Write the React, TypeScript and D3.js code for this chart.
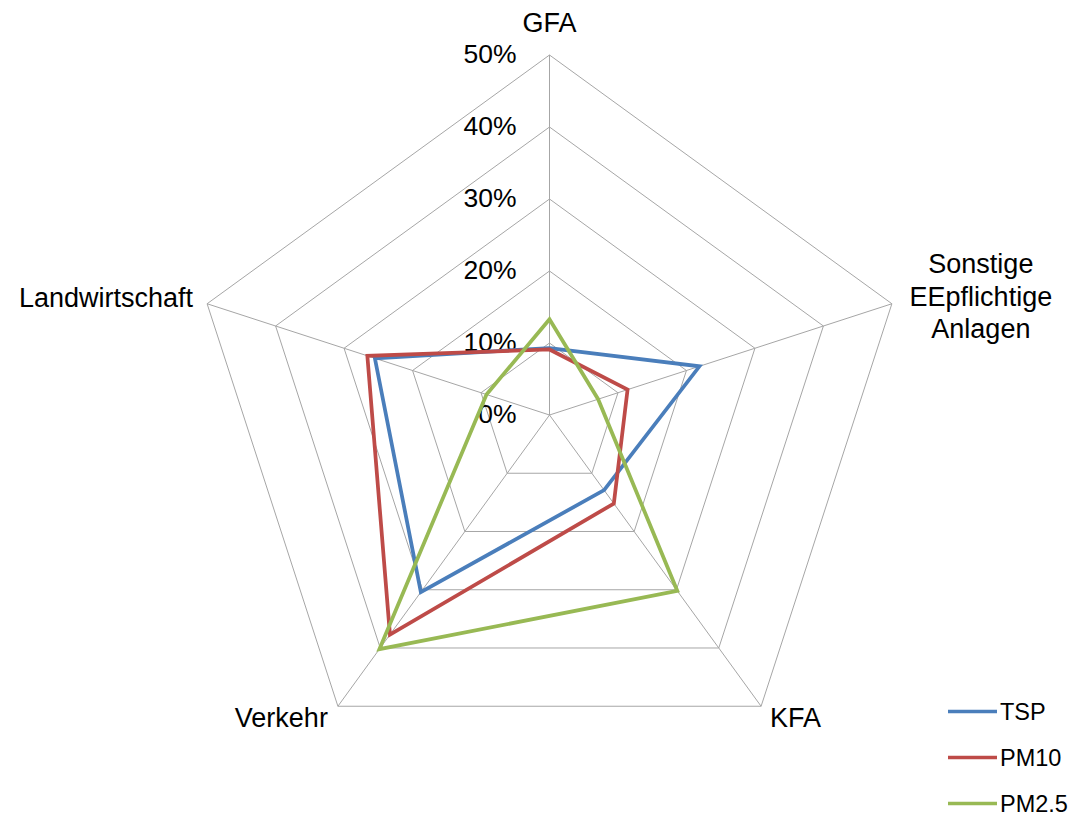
import React from "react";
import * as d3 from "d3";

// Emission shares by source group (fraction of total, per pollutant)
const categories: string[][] = [
  ["GFA"],
  ["Sonstige", "EEpflichtige", "Anlagen"],
  ["KFA"],
  ["Verkehr"],
  ["Landwirtschaft"],
];
const tspValues = [0.093, 0.219, 0.129, 0.304, 0.255];
const pm10Values = [0.091, 0.114, 0.152, 0.377, 0.266];
const pm25Values = [0.133, 0.071, 0.302, 0.402, 0.092];
const tickValues = [0, 0.1, 0.2, 0.3, 0.4, 0.5];
const tickLabels = ["0%", "10%", "20%", "30%", "40%", "50%"];

const seriesNames = ["TSP", "PM10", "PM2.5"];
const seriesValues = [tspValues, pm10Values, pm25Values];
const seriesColors = ["#4A7EBB", "#BE4B48", "#98B954"];

const W = 1077;
const H = 816;
const cx = 549.5;
const cy = 415;
const R = 360;
const FONT = "'Liberation Sans', Arial, sans-serif";

export default function App() {
  const n = categories.length;
  const r = d3.scaleLinear().domain([0, 0.5]).range([0, R]);
  const angle = d3
    .scaleLinear()
    .domain([0, n])
    .range([0, 2 * Math.PI]);

  // point for category i at value v (angle measured clockwise from 12 o'clock)
  const pt = (i: number, v: number): [number, number] => {
    const a = angle(i);
    return [cx + r(v) * Math.sin(a), cy - r(v) * Math.cos(a)];
  };

  const radial = d3
    .lineRadial<number>()
    .angle((_, i) => angle(i))
    .radius((d) => r(d))
    .curve(d3.curveLinearClosed);

  const idx = d3.range(n);
  const maxV = tickValues[tickValues.length - 1];

  // label layout per axis: [dx, dy, anchor] relative to the outer vertex
  const labelPos: [number, number, string][] = [
    [0, -32, "middle"],
    [89, -7, "middle"],
    [9, 12, "start"],
    [-10, 12, "end"],
    [-14, -6, "end"],
  ];

  return (
    <svg
      width={W}
      height={H}
      style={{ position: "absolute", left: 0, top: 0, background: "#fff" }}
    >
      <g fill="none" stroke="#A6A6A6" strokeWidth={1}>
        {tickValues.slice(1).map((t) => (
          <path key={t} d={radial(idx.map(() => t)) || ""} transform={`translate(${cx},${cy})`} />
        ))}
        {idx.map((i) => {
          const [x, y] = pt(i, maxV);
          return <line key={i} x1={cx} y1={cy} x2={x} y2={y} />;
        })}
      </g>

      <g fontFamily={FONT} fontSize={26.5} fill="#000" textAnchor="end">
        {tickValues.map((t, k) => (
          <text key={t} x={cx - 33} y={cy - r(t) + 8}>
            {tickLabels[k]}
          </text>
        ))}
      </g>

      <g fill="none" strokeWidth={3.75} strokeLinejoin="miter">
        {seriesValues.map((vals, s) => (
          <path
            key={seriesNames[s]}
            d={radial(vals) || ""}
            transform={`translate(${cx},${cy})`}
            stroke={seriesColors[s]}
          />
        ))}
      </g>

      <g fontFamily={FONT} fontSize={27} fill="#000">
        {categories.map((lines, i) => {
          const [x, y] = pt(i, maxV);
          const [dx, dy, anchor] = labelPos[i];
          const lh = 32.5;
          const y0 = y + dy - ((lines.length - 1) * lh) / 2 + 9;
          return (
            <text key={i} textAnchor={anchor as any}>
              {lines.map((ln, k) => (
                <tspan key={k} x={x + dx} y={y0 + k * lh}>
                  {ln}
                </tspan>
              ))}
            </text>
          );
        })}
      </g>

      <g fontFamily={FONT} fontSize={23.5} fill="#000">
        {seriesNames.map((name, s) => {
          const ly = 711.5 + s * 46;
          return (
            <g key={name}>
              <line x1={948} x2={997} y1={ly} y2={ly} stroke={seriesColors[s]} strokeWidth={3.5} />
              <text x={1000} y={ly + 8.5}>
                {name}
              </text>
            </g>
          );
        })}
      </g>
    </svg>
  );
}
